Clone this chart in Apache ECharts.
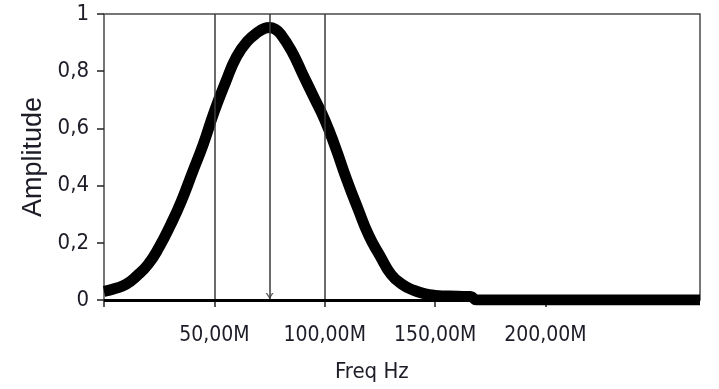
<!DOCTYPE html>
<html>
<head>
<meta charset="utf-8">
<script src="https://cdn.jsdelivr.net/npm/echarts@6/dist/echarts.min.js"></script>
<style>
html,body{margin:0;padding:0;background:#fff;}
#chart{width:719px;height:389px;}
</style>
</head>
<body>
<div id="chart"></div>
<script>
// Frequencies in MHz
const freqMHz = [0, 5, 10, 15, 20, 25, 30, 35, 40, 45, 50, 55, 60, 65, 70, 72.5, 75, 77.5, 80, 85, 90, 95, 100, 105, 110, 115, 120, 125, 130, 135, 140, 145, 150, 160, 166, 169, 180, 270];
const amplitude = [0.03, 0.04, 0.055, 0.085, 0.125, 0.185, 0.26, 0.345, 0.445, 0.545, 0.66, 0.76, 0.85, 0.905, 0.938, 0.949, 0.953, 0.947, 0.93, 0.87, 0.79, 0.71, 0.63, 0.53, 0.42, 0.32, 0.225, 0.155, 0.09, 0.055, 0.035, 0.022, 0.016, 0.013, 0.012, 0, 0, 0];
const cursorMHz = [50, 75, 100];
const activeCursorMHz = 75;
const xTickValues = [0, 50, 100, 150, 200];
const xLabelValues = [50, 100, 150, 200];
const xMin = 0, xMax = 270, xStep = 50;
const yMin = 0, yMax = 1, yStep = 0.2;

const textColor = '#1d1d28';
const narrow = '"Liberation Sans Narrow", "DejaVu Sans Condensed", "Liberation Sans", sans-serif';
const font = '"Liberation Sans", Arial, sans-serif';

const chart = echarts.init(document.getElementById('chart'), null, {renderer: 'canvas'});

const cursorLines = cursorMHz.map(f => [
  {coord: [f, yMin], lineStyle: {color: '#3a3a3a', width: 1.5, type: 'solid'}},
  {coord: [f, yMax]}
]);
const baseLine = [
  {coord: [xMin, 0], lineStyle: {color: '#000', width: 3, type: 'solid'}},
  {coord: [xMax, 0]}
];

chart.setOption({
  animation: false,
  backgroundColor: '#fff',
  grid: {left: 104, right: 19, top: 14, bottom: 89, show: true, borderColor: '#4a4a4a', borderWidth: 1.5, backgroundColor: '#fff'},
  xAxis: {
    type: 'value', min: xMin, max: xMax, interval: xStep,
    offset: 7,
    axisLine: {show: false},
    axisTick: {show: true, length: 7, lineStyle: {color: '#222', width: 1.5}, customValues: xTickValues},
    axisLabel: {
      show: true, margin: 18, color: textColor, fontSize: 21, fontFamily: narrow,
      customValues: xLabelValues,
      formatter: v => v.toFixed(2).replace('.', ',') + 'M'
    },
    splitLine: {show: false}
  },
  yAxis: {
    type: 'value', min: yMin, max: yMax, interval: yStep,
    offset: 4,
    name: 'Amplitude', nameLocation: 'middle', nameGap: 52,
    nameTextStyle: {color: textColor, fontSize: 27, fontFamily: font},
    axisLine: {show: false},
    axisTick: {show: true, length: 7, lineStyle: {color: '#222', width: 1.5}},
    axisLabel: {
      margin: 11, color: textColor, fontSize: 22, fontFamily: narrow,
      formatter: v => String(Math.round(v * 10) / 10).replace('.', ',')
    },
    splitLine: {show: false}
  },
  graphic: [{
    type: 'text', left: 335, top: 361,
    style: {text: 'Freq Hz', fill: textColor, font: '22px ' + narrow}
  }],
  series: [
    {
      type: 'line',
      data: freqMHz.map((f, i) => [f, amplitude[i]]),
      showSymbol: false,
      smooth: 0.5,
      lineStyle: {color: '#000', width: 11, cap: 'butt', join: 'round'},
      z: 3,
      markLine: {
        silent: true, symbol: ['none', 'none'], label: {show: false},
        data: cursorLines.concat([baseLine])
      }
    },
    {
      type: 'scatter',
      data: [[activeCursorMHz, 0]],
      symbol: 'path://M0,0 L2,0 L5,4 L8,0 L10,0 L5,7 Z',
      symbolSize: [8, 6],
      symbolOffset: [0, -4],
      itemStyle: {color: '#3a3a3a'},
      z: 5, silent: true
    }
  ]
});
</script>
</body>
</html>
